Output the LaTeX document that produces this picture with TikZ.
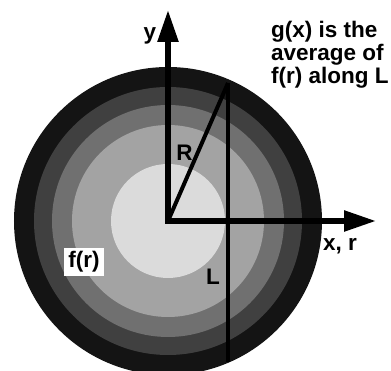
\documentclass[tikz,border=0pt]{standalone}
\usepackage{fontspec}
\setmainfont{Liberation Sans}
\usetikzlibrary{arrows.meta}

\begin{document}
\begin{tikzpicture}[x=1pt, y=1pt, >={Triangle[length=32pt,width=20pt]},
  lbl/.style={font=\fontsize{22.5}{23}\selectfont\bfseries, inner sep=0pt}]
  \useasboundingbox (-168,-150) rectangle (223,221);
  % shaded rings of f(r)
  \foreach \r/\p in {154/92, 134/75, 116/56, 96/36, 57/14} {\fill[black!\p] (0,0) circle (\r);}
  % points
  \coordinate (O) at (0,0);
  \coordinate (Ltop) at (60,138);
  \coordinate (Lbot) at (60,-141);
  \coordinate (ytip) at (0,211);
  \coordinate (xtip) at (208,0);
  % chord L and radius R
  \draw[line width=4pt] (Ltop) -- (Lbot);
  \draw[line width=4pt] (O) -- (Ltop);
  % axes
  \draw[line width=5.5pt, <->] (ytip) -- (O) -- (xtip);
  % labels
  \node[lbl] (ylab) at (-18,185) {y};
  \node[lbl] (Rlab) at (16.5,68) {R};
  \node[lbl] (Llab) at (45,-56) {L};
  \node[lbl, anchor=base west] (xlab) at (155,-30) {x, r};
  \node[lbl, fill=white, inner sep=4pt] (flab) at (-84,-41) {f(r)};
  \node[lbl, align=left, anchor=north west] (note) at (103,200) {g(x) is the\\average of\\f(r) along L};
\end{tikzpicture}
\end{document}
